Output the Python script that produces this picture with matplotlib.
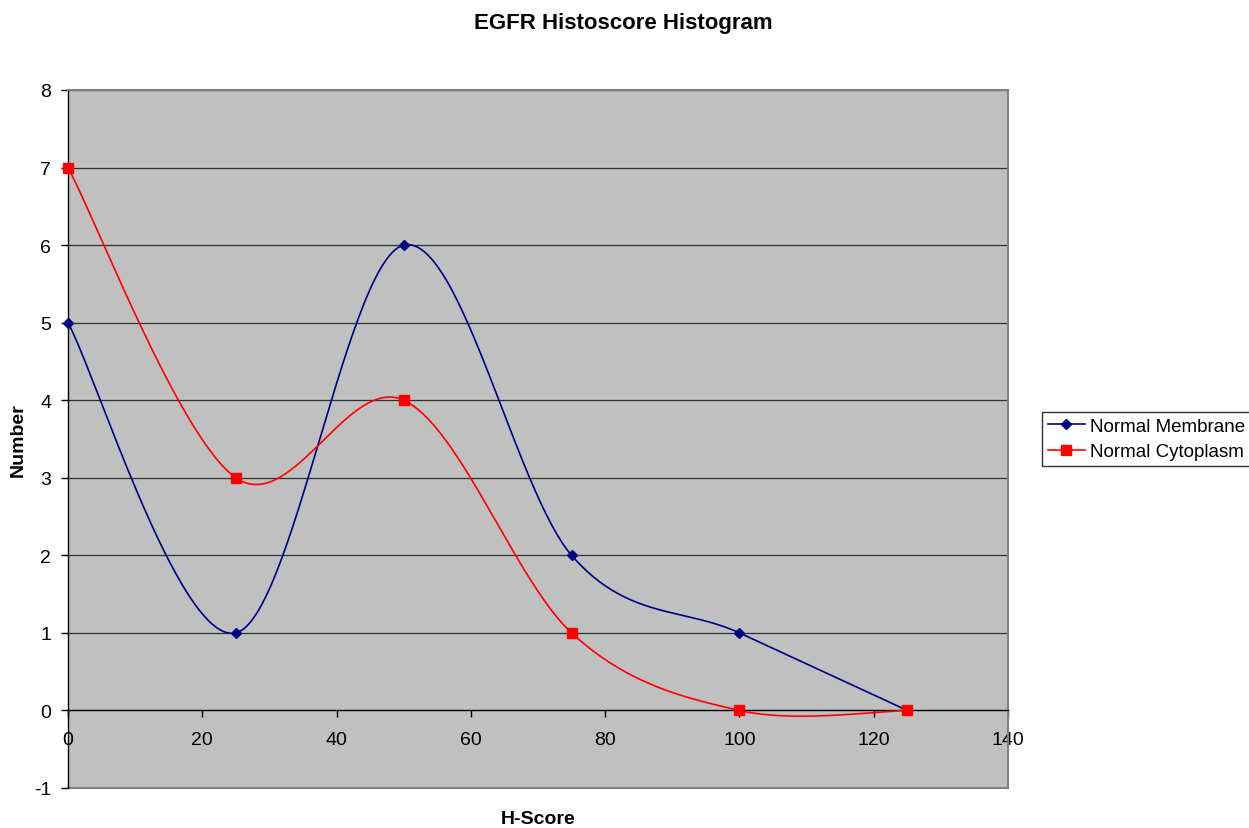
import numpy as np
import matplotlib
matplotlib.use("Agg")
import matplotlib.pyplot as plt
from matplotlib.lines import Line2D

plt.rcParams['font.family'] = ['Liberation Sans', 'DejaVu Sans']
plt.rcParams['axes.unicode_minus'] = False

h_score = [0, 25, 50, 75, 100, 125]
membrane = [5, 1, 6, 2, 1, 0]
cytoplasm = [7, 3, 4, 1, 0, 0]
x_ticks = [0, 20, 40, 60, 80, 100, 120, 140]
y_ticks = [-1, 0, 1, 2, 3, 4, 5, 6, 7, 8]


def excel_smooth(xs, ys, n=60):
    P = np.column_stack([xs, ys]).astype(float)
    m = len(P)
    out = [P[0]]
    for i in range(m - 1):
        p0 = P[i - 1] if i > 0 else P[i]
        p1 = P[i]
        p2 = P[i + 1]
        p3 = P[i + 2] if i + 2 < m else P[i + 1]
        c1 = p1 + (p2 - p0) / 6.0
        c2 = p2 - (p3 - p1) / 6.0
        t = np.linspace(0, 1, n)[1:, None]
        seg = ((1 - t) ** 3) * p1 + 3 * ((1 - t) ** 2) * t * c1 + 3 * (1 - t) * t ** 2 * c2 + t ** 3 * p2
        out.extend(seg)
    out = np.array(out)
    return out[:, 0], out[:, 1]


fig = plt.figure(figsize=(12.49, 8.29), dpi=100)
ax = fig.add_axes([68 / 1249, 1 - 789 / 829, (1008 - 68) / 1249, (789 - 91) / 829])
ax.set_facecolor('#C0C0C0')
ax.set_xlim(0, 140)
ax.set_ylim(-1, 8)

for yv in y_ticks[2:]:
    ax.axhline(yv, color='#303030', lw=0.9, zorder=1)

navy = '#000080'
red = '#FF0000'
sx, sy = excel_smooth(h_score, membrane)
ax.plot(sx, sy, color=navy, lw=1.2, zorder=3)
ax.plot(h_score, membrane, ls='none', marker='D', ms=5.5, color=navy, zorder=4, clip_on=False)
sx, sy = excel_smooth(h_score, cytoplasm)
ax.plot(sx, sy, color=red, lw=1.2, zorder=3)
ax.plot(h_score, cytoplasm, ls='none', marker='s', ms=7, color=red, zorder=5, clip_on=False)

ax.spines['bottom'].set_position(('data', 0))
ax.spines['bottom'].set_color('black')
ax.spines['bottom'].set_linewidth(1.0)
ax.spines['left'].set_color('black')
ax.spines['left'].set_linewidth(1.0)
for s in ['top', 'right']:
    ax.spines[s].set_color('#808080')
    ax.spines[s].set_linewidth(1.5)
ax.plot([0, 140], [-1, -1], color='#808080', lw=1.5, clip_on=False, zorder=2)

ax.set_xticks(x_ticks)
ax.set_yticks(y_ticks)
ax.tick_params(axis='x', direction='out', length=5, width=1, pad=10, labelsize=14, color='black')
ax.tick_params(axis='y', direction='out', length=5, width=1, pad=7, labelsize=14, color='black')

fig.text(538 / 1249, 1 - 820 / 829, 'H-Score', ha='center', va='center', fontsize=14, fontweight='bold')
fig.text(18 / 1249, 1 - 440 / 829, 'Number', ha='center', va='center', rotation=90, fontsize=14, fontweight='bold')
fig.text(623 / 1249, 1 - 24 / 829, 'EGFR Histoscore Histogram', ha='center', va='center', fontsize=16, fontweight='bold')

handles = [Line2D([], [], color=navy, marker='D', ms=5.5, lw=1.2),
           Line2D([], [], color=red, marker='s', ms=7, lw=1.2)]
leg = fig.legend(handles, ['Normal Membrane', 'Normal Cytoplasm'],
                 loc='upper left', bbox_to_anchor=(1042 / 1249, 1 - 413 / 829),
                 fontsize=13.5, frameon=True, fancybox=False, borderpad=0.3,
                 handlelength=2.0, handletextpad=0.25, labelspacing=0.45, borderaxespad=0)
leg.get_frame().set_edgecolor('black')
leg.get_frame().set_linewidth(1.0)

fig.savefig('out.png', dpi=100)
